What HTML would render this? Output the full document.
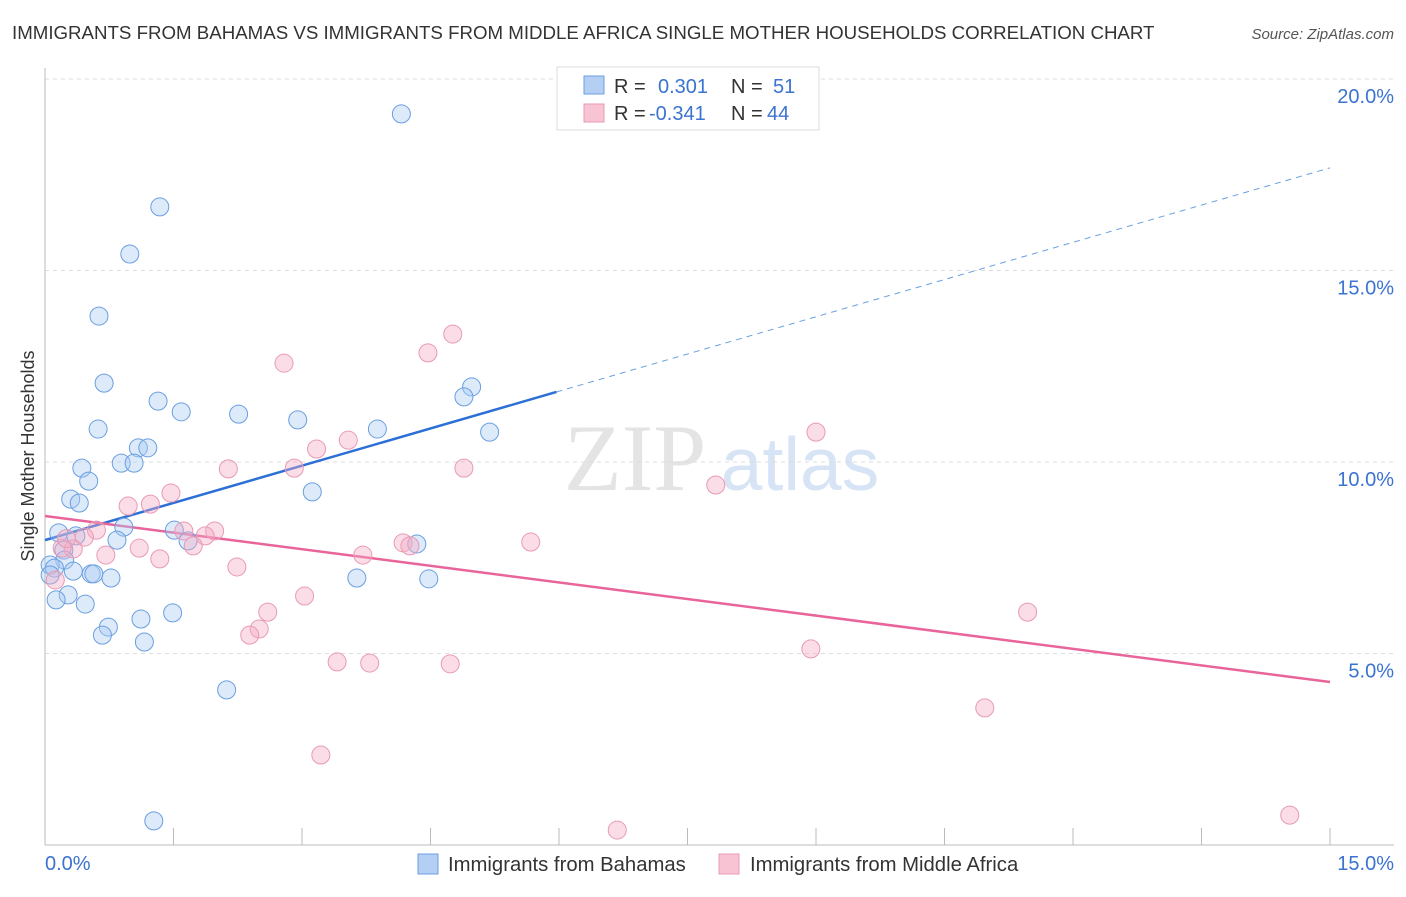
<!DOCTYPE html>
<html><head><meta charset="utf-8"><style>
body{margin:0;background:#fff;font-family:"Liberation Sans",sans-serif;}
svg text{font-family:"Liberation Sans",sans-serif;}
</style></head><body>
<svg width="1406" height="892" viewBox="0 0 1406 892" id="chart">
<text x="12" y="39" font-size="18.7" fill="#333">IMMIGRANTS FROM BAHAMAS VS IMMIGRANTS FROM MIDDLE AFRICA SINGLE MOTHER HOUSEHOLDS CORRELATION CHART</text>
<text x="1394" y="39" font-size="15" fill="#555" font-style="italic" text-anchor="end">Source: ZipAtlas.com</text>
<g>
<text x="635" y="490" font-size="95" fill="#e4e4e4" text-anchor="middle" font-family="Liberation Serif" style="font-family:'Liberation Serif',serif">ZIP</text>
<text x="800" y="490" font-size="75" fill="#d6e4f5" text-anchor="middle">atlas</text>
</g>
<g id="grid"></g><g id="axes"></g><g id="trends"></g><g id="points"></g>
<text transform="translate(34,456) rotate(-90)" font-size="18" fill="#333" text-anchor="middle">Single Mother Households</text>
<text x="45" y="870" font-size="20" fill="#3b73d1">0.0%</text>
<text x="1394" y="870" font-size="20" fill="#3b73d1" text-anchor="end">15.0%</text>
<g>
<rect x="557" y="67" width="262" height="63" fill="#fff" stroke="#ddd"/>
<rect x="584" y="76" width="20" height="18" fill="#b4cff3" stroke="#6a9fe0"/>
<text x="614" y="93" font-size="20" fill="#333">R =</text><text x="658" y="93" font-size="20" fill="#3b73d1">0.301</text>
<text x="731" y="93" font-size="20" fill="#333">N =</text><text x="773" y="93" font-size="20" fill="#3b73d1">51</text>
<rect x="584" y="104" width="20" height="18" fill="#f8c4d4" stroke="#e89ab5"/>
<text x="614" y="120" font-size="20" fill="#333">R =</text><text x="649" y="120" font-size="20" fill="#3b73d1">-0.341</text>
<text x="731" y="120" font-size="20" fill="#333">N =</text><text x="767" y="120" font-size="20" fill="#3b73d1">44</text>
</g>
<g>
<rect x="418" y="854" width="20" height="20" fill="#b4cff3" stroke="#6a9fe0"/>
<text x="448" y="871" font-size="20.3" fill="#333">Immigrants from Bahamas</text>
<rect x="719" y="854" width="20" height="20" fill="#f8c4d4" stroke="#e89ab5"/>
<text x="750" y="871" font-size="20.3" fill="#333">Immigrants from Middle Africa</text>
</g>
</svg>
<script>
const yTicks=[5,10,15,20];
const yTickLabels=["5.0%","10.0%","15.0%","20.0%"];
const xTicks=[0,1.5,3,4.5,6,7.5,9,10.5,12,13.5,15];
const blueX=[4.16,1.34,0.99,0.63,0.69,1.32,1.59,2.26,2.95,4.98,4.89,3.88,5.19,0.62,1.09,1.20,0.89,1.04,0.43,0.51,0.30,0.40,3.12,0.92,1.51,0.16,0.36,0.84,1.67,4.34,0.22,0.23,0.06,0.11,0.33,0.54,0.57,0.77,3.64,4.48,0.06,0.27,0.13,0.47,0.74,1.12,1.49,0.67,1.16,2.12,1.27];
const blueY=[19.09,16.66,15.43,13.81,12.06,11.59,11.31,11.25,11.10,11.96,11.70,10.86,10.78,10.86,10.37,10.37,9.97,9.97,9.84,9.50,9.03,8.93,9.22,8.30,8.22,8.15,8.07,7.96,7.94,7.86,7.70,7.44,7.31,7.23,7.15,7.08,7.08,6.97,6.97,6.95,7.05,6.53,6.40,6.29,5.69,5.90,6.06,5.48,5.30,4.05,0.63];
const pinkX=[4.76,4.47,2.79,9.00,3.54,3.17,2.14,2.91,4.89,1.47,7.83,0.97,1.23,0.60,0.46,1.62,1.98,1.87,1.73,5.67,4.18,4.26,0.33,0.20,1.10,0.71,3.71,1.34,2.24,0.12,3.03,2.60,11.47,2.50,2.39,8.94,3.41,3.79,4.73,10.97,3.22,6.68,14.53,0.25];
const pinkY=[13.34,12.85,12.58,10.78,10.57,10.34,9.82,9.84,9.84,9.19,9.40,8.85,8.90,8.22,8.04,8.20,8.20,8.07,7.81,7.91,7.89,7.81,7.73,7.75,7.75,7.57,7.57,7.47,7.26,6.92,6.50,6.08,6.08,5.64,5.48,5.12,4.78,4.75,4.73,3.58,2.35,0.39,0.78,8.0];
const blueTrend=[7.96,0.648];
const pinkTrend=[8.59,-0.289];
const NS="http://www.w3.org/2000/svg";
const X=v=>45+v/15*1285;
const Y=v=>845-v/5*191.5;
function mk(tag,attrs,parent){const e=document.createElementNS(NS,tag);for(const k in attrs)e.setAttribute(k,attrs[k]);document.getElementById(parent).appendChild(e);return e;}
yTicks.forEach((t,i)=>{
 let l=mk('line',{x1:45,x2:1394,y1:Y(t),y2:Y(t),stroke:'#ddd','stroke-dasharray':'4,4'},'grid');
 
 
 let tx=mk('text',{x:1394,y:Y(t)+24,'font-size':20,fill:'#3b73d1','text-anchor':'end'},'grid');
 tx.textContent=yTickLabels[i];
 
 
});
let ax=mk('line',{x1:45,x2:45,y1:68,y2:845,stroke:'#bbb'},'axes');


let bx=mk('line',{x1:45,x2:1394,y1:845,y2:845,stroke:'#bbb'},'axes');


xTicks.forEach(t=>{let l=mk('line',{x1:X(t),x2:X(t),y1:828,y2:845,stroke:'#bbb'},'axes');
 
 });
function trend(tr,x0,x1,col,dash,name){let l=mk('line',{x1:X(x0),y1:Y(tr[0]+tr[1]*x0),x2:X(x1),y2:Y(tr[0]+tr[1]*x1),stroke:col,'stroke-width':dash?1:2.5,'stroke-dasharray':dash?'6,5':'none'},'trends');
 
 }
trend(blueTrend,0,5.97,'#2c6fd6',false,'bahamas-trendline');
trend(blueTrend,5.97,15,'#6a9fe0',true,'bahamas-trendline-extension');
trend(pinkTrend,0,15,'#e8649a',false,'middle-africa-trendline');
blueX.forEach((v,i)=>{let c=mk('circle',{cx:X(v),cy:Y(blueY[i]),r:9,fill:'rgba(170,203,242,0.4)',stroke:'#6a9fe0','stroke-width':1},'points');
 
 });
pinkX.forEach((v,i)=>{let c=mk('circle',{cx:X(v),cy:Y(pinkY[i]),r:9,fill:'rgba(245,170,195,0.4)',stroke:'#e89ab5','stroke-width':1},'points');
 
 });
</script>
</body></html>
